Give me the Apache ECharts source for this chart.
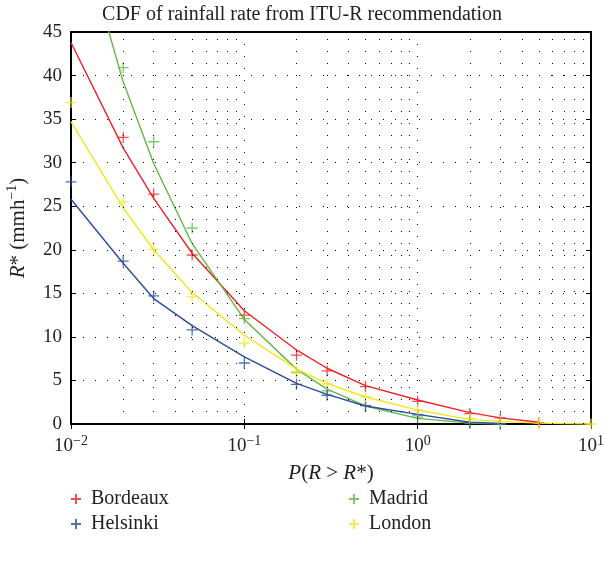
<!DOCTYPE html>
<html>
<head>
<meta charset="utf-8">
<script src="https://cdn.jsdelivr.net/npm/echarts@6/dist/echarts.min.js"></script>
<style>html,body{margin:0;padding:0;background:#fff}#c{width:604px;height:565px}</style>
</head>
<body>
<div id="c"></div>
<script>
// Probability levels (%)
var probs = [0.01, 0.02, 0.03, 0.05, 0.1, 0.2, 0.3, 0.5, 1, 2, 3, 5, 10];
// Measured points (null = not shown)
var bordeauxPts = [null, 32.9, 26.4, 19.4, 12.5, 7.9, 6.1, 4.3, 2.6, 1.2, 0.7, 0.15, null];
var madridPts   = [null, 40.9, 32.4, 22.5, 12.1, 5.9, 3.8, 2.1, 0.8, 0.1, 0.0, null, null];
var helsinkiPts = [27.8, 18.7, 14.7, 10.8, 7.0, 4.55, 3.3, 2.1, 1.05, 0.15, 0.0, null, null];
var londonPts   = [36.9, 25.5, 20.05, 14.6, 9.3, 6.0, 4.6, 3.1, 1.6, 0.65, 0.3, 0.1, 0.0];
// ITU-R model curves
var bordeauxFit = [43.8, 31.7, 25.9, 19.6, 13.0, 8.5, 6.4, 4.4, 2.75, 1.3, 0.7, 0.2, null];
var madridFit   = [60.0, 39.3, 29.9, 20.7, 12.0, 6.3, 4.0, 2.07, 0.65, 0.1, 0.0, null, null];
var helsinkiFit = [25.8, 18.45, 14.4, 11.3, 7.7, 4.67, 3.4, 2.07, 1.1, 0.2, 0.05, null, null];
var londonFit   = [34.7, 24.8, 20.0, 15.1, 10.2, 6.3, 4.67, 3.1, 1.6, 0.5, 0.3, 0.1, 0.0];
// grid
var minorGridX = [0.02,0.03,0.04,0.05,0.06,0.07,0.08,0.09,0.2,0.3,0.4,0.5,0.6,0.7,0.8,0.9,2,3,4,5,6,7,8,9];

var colors = {Bordeaux: '#ee2127', Madrid: '#62b845', Helsinki: '#2d4b9e', London: '#f3e61e'};
var pts = {Bordeaux: bordeauxPts, Madrid: madridPts, Helsinki: helsinkiPts, London: londonPts};
var fits = {Bordeaux: bordeauxFit, Madrid: madridFit, Helsinki: helsinkiFit, London: londonFit};

var FONT = 'Liberation Serif';
var TXT = '#222';
var plus = 'path://M0,5L10,5M5,0L5,10';

function pairs(arr) {
  var out = [];
  for (var i = 0; i < probs.length; i++) if (arr[i] !== null) out.push([probs[i], arr[i]]);
  return out;
}

var series = [];
['Bordeaux', 'Madrid', 'London', 'Helsinki'].forEach(function (n) {
  series.push({
    name: n + ' model', type: 'line', data: pairs(fits[n]), showSymbol: false, symbol: 'none',
    lineStyle: {color: colors[n], width: 1.4}, clip: true, silent: true, z: 3
  });
});
['Bordeaux', 'Madrid', 'Helsinki', 'London'].forEach(function (n) {
  series.push({
    name: n, type: 'scatter', data: pairs(pts[n]), symbol: plus, symbolSize: 11,
    itemStyle: {color: colors[n], borderColor: colors[n], borderWidth: 1.3},
    clip: false, z: 4
  });
});
// minor vertical dotted grid
series.push({
  type: 'line', data: [], silent: true,
  markLine: {
    silent: true, symbol: 'none', label: {show: false},
    lineStyle: {color: '#000', type: [1, 11], width: 1},
    data: minorGridX.map(function (v) { return {xAxis: v}; })
  }
});

function logLabel(v) {
  var e = Math.round(Math.log10(v));
  return '{b|10}{s|' + (e < 0 ? '\u2212' + (-e) : e) + '}';
}
var labRich = {
  b: {fontFamily: FONT, fontSize: 19, color: TXT, lineHeight: 22, verticalAlign: 'bottom'},
  s: {fontFamily: FONT, fontSize: 14, color: TXT, lineHeight: 22, verticalAlign: 'top', padding: [0, 0, 8, 0]}
};
var legendText = {fontFamily: FONT, fontSize: 20, color: TXT, padding: [0, 0, 0, 5]};

var option = {
  animation: false,
  backgroundColor: '#fff',
  title: {
    text: 'CDF of rainfall rate from ITU-R recommendation', left: 'center', top: 0,
    textStyle: {fontFamily: FONT, fontSize: 20, fontWeight: 'normal', color: TXT}
  },
  legend: [{
    data: [{name: 'Bordeaux', icon: plus}, {name: 'Helsinki', icon: plus}],
    orient: 'vertical', left: 65, top: 484, itemWidth: 10, itemHeight: 10, itemGap: 5,
    textStyle: legendText, selectedMode: false
  }, {
    data: [{name: 'Madrid', icon: plus}, {name: 'London', icon: plus}],
    orient: 'vertical', left: 343, top: 484, itemWidth: 10, itemHeight: 10, itemGap: 5,
    textStyle: legendText, selectedMode: false
  }],
  grid: {left: 71, right: 13, top: 32, bottom: 141, show: true, borderColor: '#000', borderWidth: 2,
         containLabel: false, outerBoundsMode: 'none'},
  xAxis: [{
    type: 'log', logBase: 10, min: 0.01, max: 10,
    name: '{i|P}{n|(}{i|R}{n| > }{i|R}{n|*)}', nameLocation: 'middle', nameGap: 39,
    nameTextStyle: {rich: {
      i: {fontFamily: FONT, fontSize: 21, fontStyle: 'italic', color: TXT},
      n: {fontFamily: FONT, fontSize: 21, color: TXT}
    }},
    axisLine: {lineStyle: {color: '#000', width: 2}},
    axisTick: {inside: true, length: 5, lineStyle: {color: '#000'}},
    axisLabel: {formatter: logLabel, rich: labRich, margin: 10},
    splitLine: {show: true, lineStyle: {color: '#000', type: [1, 11], width: 1}}
  }, {
    type: 'log', logBase: 10, min: 0.01, max: 10, position: 'top',
    axisLine: {lineStyle: {color: '#000', width: 2}},
    axisTick: {inside: true, length: 5, lineStyle: {color: '#000'}},
    axisLabel: {show: false}, splitLine: {show: false}
  }],
  yAxis: [{
    type: 'value', min: 0, max: 45, interval: 5,
    name: '{i|R}{n|* (mmh}{s|\u22121}{n|)}', nameLocation: 'middle', nameGap: 42, nameRotate: 90,
    nameTextStyle: {rich: {
      i: {fontFamily: FONT, fontSize: 21, fontStyle: 'italic', color: TXT, lineHeight: 24, verticalAlign: 'bottom'},
      n: {fontFamily: FONT, fontSize: 21, color: TXT, lineHeight: 24, verticalAlign: 'bottom'},
      s: {fontFamily: FONT, fontSize: 14, color: TXT, lineHeight: 24, verticalAlign: 'top'}
    }},
    axisLine: {show: true, lineStyle: {color: '#000', width: 2}},
    axisTick: {show: true, inside: true, length: 5, lineStyle: {color: '#000'}},
    axisLabel: {fontFamily: FONT, fontSize: 19, color: TXT, margin: 9},
    splitLine: {show: true, lineStyle: {color: '#000', type: [1, 11], width: 1}}
  }, {
    type: 'value', min: 0, max: 45, interval: 5, position: 'right',
    axisLine: {show: true, lineStyle: {color: '#000', width: 2}},
    axisTick: {show: true, inside: true, length: 5, lineStyle: {color: '#000'}},
    axisLabel: {show: false}, splitLine: {show: false}
  }],
  series: series
};
var chart = echarts.init(document.getElementById('c'), null, {renderer: 'canvas'});
chart.setOption(option);
</script>
</body>
</html>
